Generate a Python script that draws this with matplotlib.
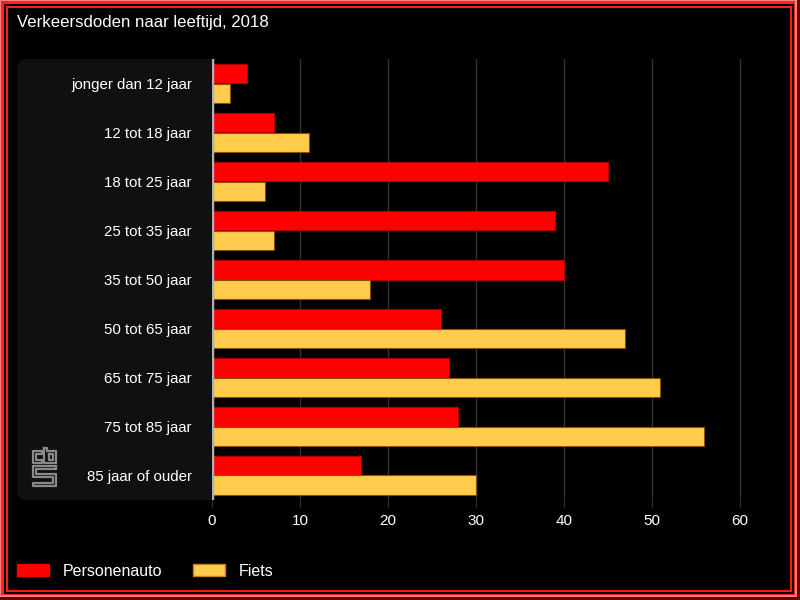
import matplotlib
matplotlib.use("Agg")
import matplotlib.pyplot as plt
import matplotlib.patches as mpatches
from matplotlib.patches import FancyBboxPatch, Rectangle
import numpy as np

plt.rcParams['font.family'] = ['Liberation Sans', 'DejaVu Sans']

categories = ["jonger dan 12 jaar", "12 tot 18 jaar", "18 tot 25 jaar", "25 tot 35 jaar",
              "35 tot 50 jaar", "50 tot 65 jaar", "65 tot 75 jaar", "75 tot 85 jaar",
              "85 jaar of ouder"]
personenauto = [4, 7, 45, 39, 40, 26, 27, 28, 17]
fiets = [2, 11, 6, 7, 18, 47, 51, 56, 30]
series_names = ["Personenauto", "Fiets"]
xticks = [0, 10, 20, 30, 40, 50, 60]

W, H = 800, 600
fig = plt.figure(figsize=(8, 6), dpi=100)
fig.patch.set_facecolor('black')

def px(x0, y0, w, h):
    return (x0 / W, 1 - (y0 + h) / H, w / W, h / H)

def frect(x0, y0, w, h, color, z=0):
    l, b, ww, hh = px(x0, y0, w, h)
    fig.patches.append(Rectangle((l, b), ww, hh, transform=fig.transFigure,
                                 facecolor=color, edgecolor='none', zorder=z))

# frame
frect(0, 0, 800, 600, '#6a0000')
frect(0, 0, 797, 597, '#ff8080')
frect(1, 1, 794, 594, '#ff2020')
frect(4, 4, 790, 590, '#000000')
frect(6, 6, 786, 586, '#ff1a1a')
frect(8, 8, 782, 582, '#000000')

# label panel (rounded on the left, straight on the right)
l, b, ww, hh = px(17, 59, 150, 441)
fig.patches.append(FancyBboxPatch((l, b), ww, hh, boxstyle="round,pad=0,rounding_size=0.012",
                                  transform=fig.transFigure, facecolor='#101010',
                                  edgecolor='none', zorder=1, mutation_aspect=800/600))
frect(100, 59, 112, 441, '#101010', z=1)

# cbs logo (decorative)
def fline(xs, ys, lw=1.6, color='#8a8a8a'):
    fig.add_artist(plt.Line2D([x / W for x in xs], [1 - y / H for y in ys],
                              transform=fig.transFigure, color=color, lw=lw, zorder=3))
fline([42, 33, 33, 42, 42, 36, 36, 42, 42], [451, 451, 463, 463, 460, 460, 454, 454, 451])
fline([44, 47, 47, 56, 56, 44, 44], [448, 448, 451, 451, 463, 463, 448])
fline([49, 53, 53, 49, 49], [454, 454, 460, 460, 454])
fline([56, 33, 33, 53, 53, 33, 33, 56, 56, 36, 36, 56, 56],
      [466, 466, 477, 477, 483, 483, 486, 486, 474, 474, 469, 469, 466])

# axes
ax = fig.add_axes(px(212, 59, 554, 441))
ax.set_facecolor('none')
ax.set_zorder(2)
y = np.arange(len(categories))
h = 0.4
ax.barh(y - h / 2, personenauto, height=h, color='#ff0000', edgecolor='#b00000', linewidth=0.8,
        label=series_names[0], zorder=3)
ax.barh(y + h / 2, fiets, height=h, color='#ffcc4d', edgecolor='#8a5200', linewidth=0.8,
        label=series_names[1], zorder=3)
ax.set_ylim(len(categories) - 0.5, -0.5)
ax.set_xlim(0, 63)
ax.set_xticks(xticks)
ax.set_xticklabels([str(t) for t in xticks], color='white', fontsize=11)
ax.set_yticks(y)
ax.set_yticklabels(categories, color='white', fontsize=10.8)
ax.tick_params(axis='y', length=0, pad=14.4)
ax.tick_params(axis='x', length=5, color='#333333', pad=5)
for s in ax.spines.values():
    s.set_visible(False)
ax.grid(axis='x', color='#333333', linewidth=1, zorder=0)
ax.axvline(0, color='#b0b0b0', linewidth=2.5, zorder=4)

fig.text(17 / W, 1 - 22 / H, "Verkeersdoden naar leeftijd, 2018", color='white', fontsize=12.1,
         ha='left', va='center')

handles = [mpatches.Patch(facecolor='#ff0000', edgecolor='#ff0000'),
           mpatches.Patch(facecolor='#ffcc4d', edgecolor='#c08020')]
leg = fig.legend(handles, series_names, loc='center left', bbox_to_anchor=(2.6 / W, 1 - 571 / H),
                 ncol=2, frameon=False, fontsize=11.5, handlelength=2.0, handleheight=0.85,
                 columnspacing=1.94, handletextpad=0.87, labelcolor='white')

fig.savefig("out.png", dpi=100, facecolor=fig.get_facecolor())
